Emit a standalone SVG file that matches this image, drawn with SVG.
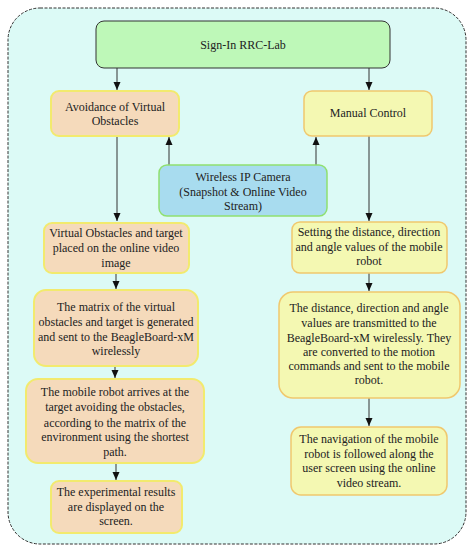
<svg xmlns="http://www.w3.org/2000/svg" width="474" height="552" viewBox="0 0 474 552">
<style>
text{font-family:"Liberation Serif","Times New Roman",serif;font-size:12px;fill:#222;text-anchor:middle}
.c{fill:none;stroke:#333;stroke-width:1}
.or{fill:#f5dabb;stroke:#f2ea6e;stroke-width:2}
.ye{fill:#f4f8b2;stroke:#f0c86e;stroke-width:1.5}
</style>
<defs>
<marker id="ah" viewBox="0 0 8 8" refX="8" refY="4" markerWidth="8" markerHeight="8" markerUnits="userSpaceOnUse" orient="auto">
<path d="M0,0.5 L8,4 L0,7.5 Z" fill="#111"/>
</marker>
</defs>
<rect x="8" y="8" width="458" height="536" rx="32" fill="#dcfaf6" stroke="#333" stroke-width="1" stroke-dasharray="3,1.5"/>
<g id="connectors">
<line class="c" x1="117" y1="68" x2="117" y2="90" marker-end="url(#ah)"/>
<line class="c" x1="369" y1="68" x2="369" y2="90" marker-end="url(#ah)"/>
<line class="c" x1="169" y1="165" x2="169" y2="137" marker-end="url(#ah)"/>
<line class="c" x1="316" y1="165" x2="316" y2="137" marker-end="url(#ah)"/>
<line class="c" x1="117" y1="136" x2="117" y2="221" marker-end="url(#ah)"/>
<line class="c" x1="369" y1="136" x2="369" y2="221" marker-end="url(#ah)"/>
<line class="c" x1="116" y1="273" x2="116" y2="289" marker-end="url(#ah)"/>
<line class="c" x1="369" y1="273" x2="369" y2="291" marker-end="url(#ah)"/>
<line class="c" x1="115" y1="366" x2="115" y2="378" marker-end="url(#ah)"/>
<line class="c" x1="369" y1="398" x2="369" y2="426" marker-end="url(#ah)"/>
<line class="c" x1="116" y1="463" x2="116" y2="480" marker-end="url(#ah)"/>
</g>
<g id="signin">
<rect x="96" y="21" width="294" height="47" rx="8" fill="#bef8b8" stroke="#333" stroke-width="1"/>
<text x="243" y="49">Sign-In RRC-Lab</text>
</g>
<g id="avoidance">
<rect class="or" x="51" y="91" width="128" height="45" rx="8"/>
<text x="115" y="111">Avoidance of Virtual</text>
<text x="115" y="125">Obstacles</text>
</g>
<g id="manual">
<rect class="ye" x="304" y="91" width="128" height="45" rx="8"/>
<text x="368" y="117">Manual Control</text>
</g>
<g id="camera">
<rect x="159" y="165" width="168" height="51" rx="8" fill="#a8dcef" stroke="#90e070" stroke-width="1.5"/>
<text x="243" y="181">Wireless IP Camera</text>
<text x="243" y="196">(Snapshot &amp; Online Video</text>
<text x="243" y="210">Stream)</text>
</g>
<g id="virtual">
<rect class="or" x="44" y="223" width="145" height="50" rx="8"/>
<text x="116" y="237">Virtual Obstacles and target</text>
<text x="116" y="252">placed on the online video</text>
<text x="116" y="267">image</text>
</g>
<g id="setting">
<rect class="ye" x="292" y="222" width="155" height="51" rx="8"/>
<text x="369" y="236">Setting the distance, direction</text>
<text x="369" y="251">and angle values of the mobile</text>
<text x="369" y="265">robot</text>
</g>
<g id="matrix">
<rect class="or" x="34" y="290" width="164" height="76" rx="12"/>
<text x="116" y="311">The matrix of the virtual</text>
<text x="116" y="326">obstacles and target is generated</text>
<text x="116" y="341">and sent to the BeagleBoard-xM</text>
<text x="116" y="355">wirelessly</text>
</g>
<g id="arrives">
<rect class="or" x="26" y="379" width="178" height="84" rx="12"/>
<text x="115" y="396">The mobile robot arrives at the</text>
<text x="115" y="411">target avoiding the obstacles,</text>
<text x="115" y="427">according to the matrix of the</text>
<text x="115" y="441">environment using the shortest</text>
<text x="115" y="456">path.</text>
</g>
<g id="results">
<rect class="or" x="51" y="481" width="131" height="52" rx="8"/>
<text x="116" y="496">The experimental results</text>
<text x="116" y="511">are displayed on the</text>
<text x="116" y="525">screen.</text>
</g>
<g id="transmit">
<rect class="ye" x="279" y="292" width="181" height="106" rx="14"/>
<text x="369" y="312">The distance, direction and angle</text>
<text x="369" y="327">values are transmitted to the</text>
<text x="369" y="342">BeagleBoard-xM wirelessly. They</text>
<text x="369" y="356">are converted to the motion</text>
<text x="369" y="370">commands and sent to the mobile</text>
<text x="369" y="384">robot.</text>
</g>
<g id="navigation">
<rect class="ye" x="291" y="427" width="156" height="68" rx="10"/>
<text x="369" y="443">The navigation of the mobile</text>
<text x="369" y="458">robot is followed along the</text>
<text x="369" y="472">user screen using the online</text>
<text x="369" y="487">video stream.</text>
</g>
</svg>
